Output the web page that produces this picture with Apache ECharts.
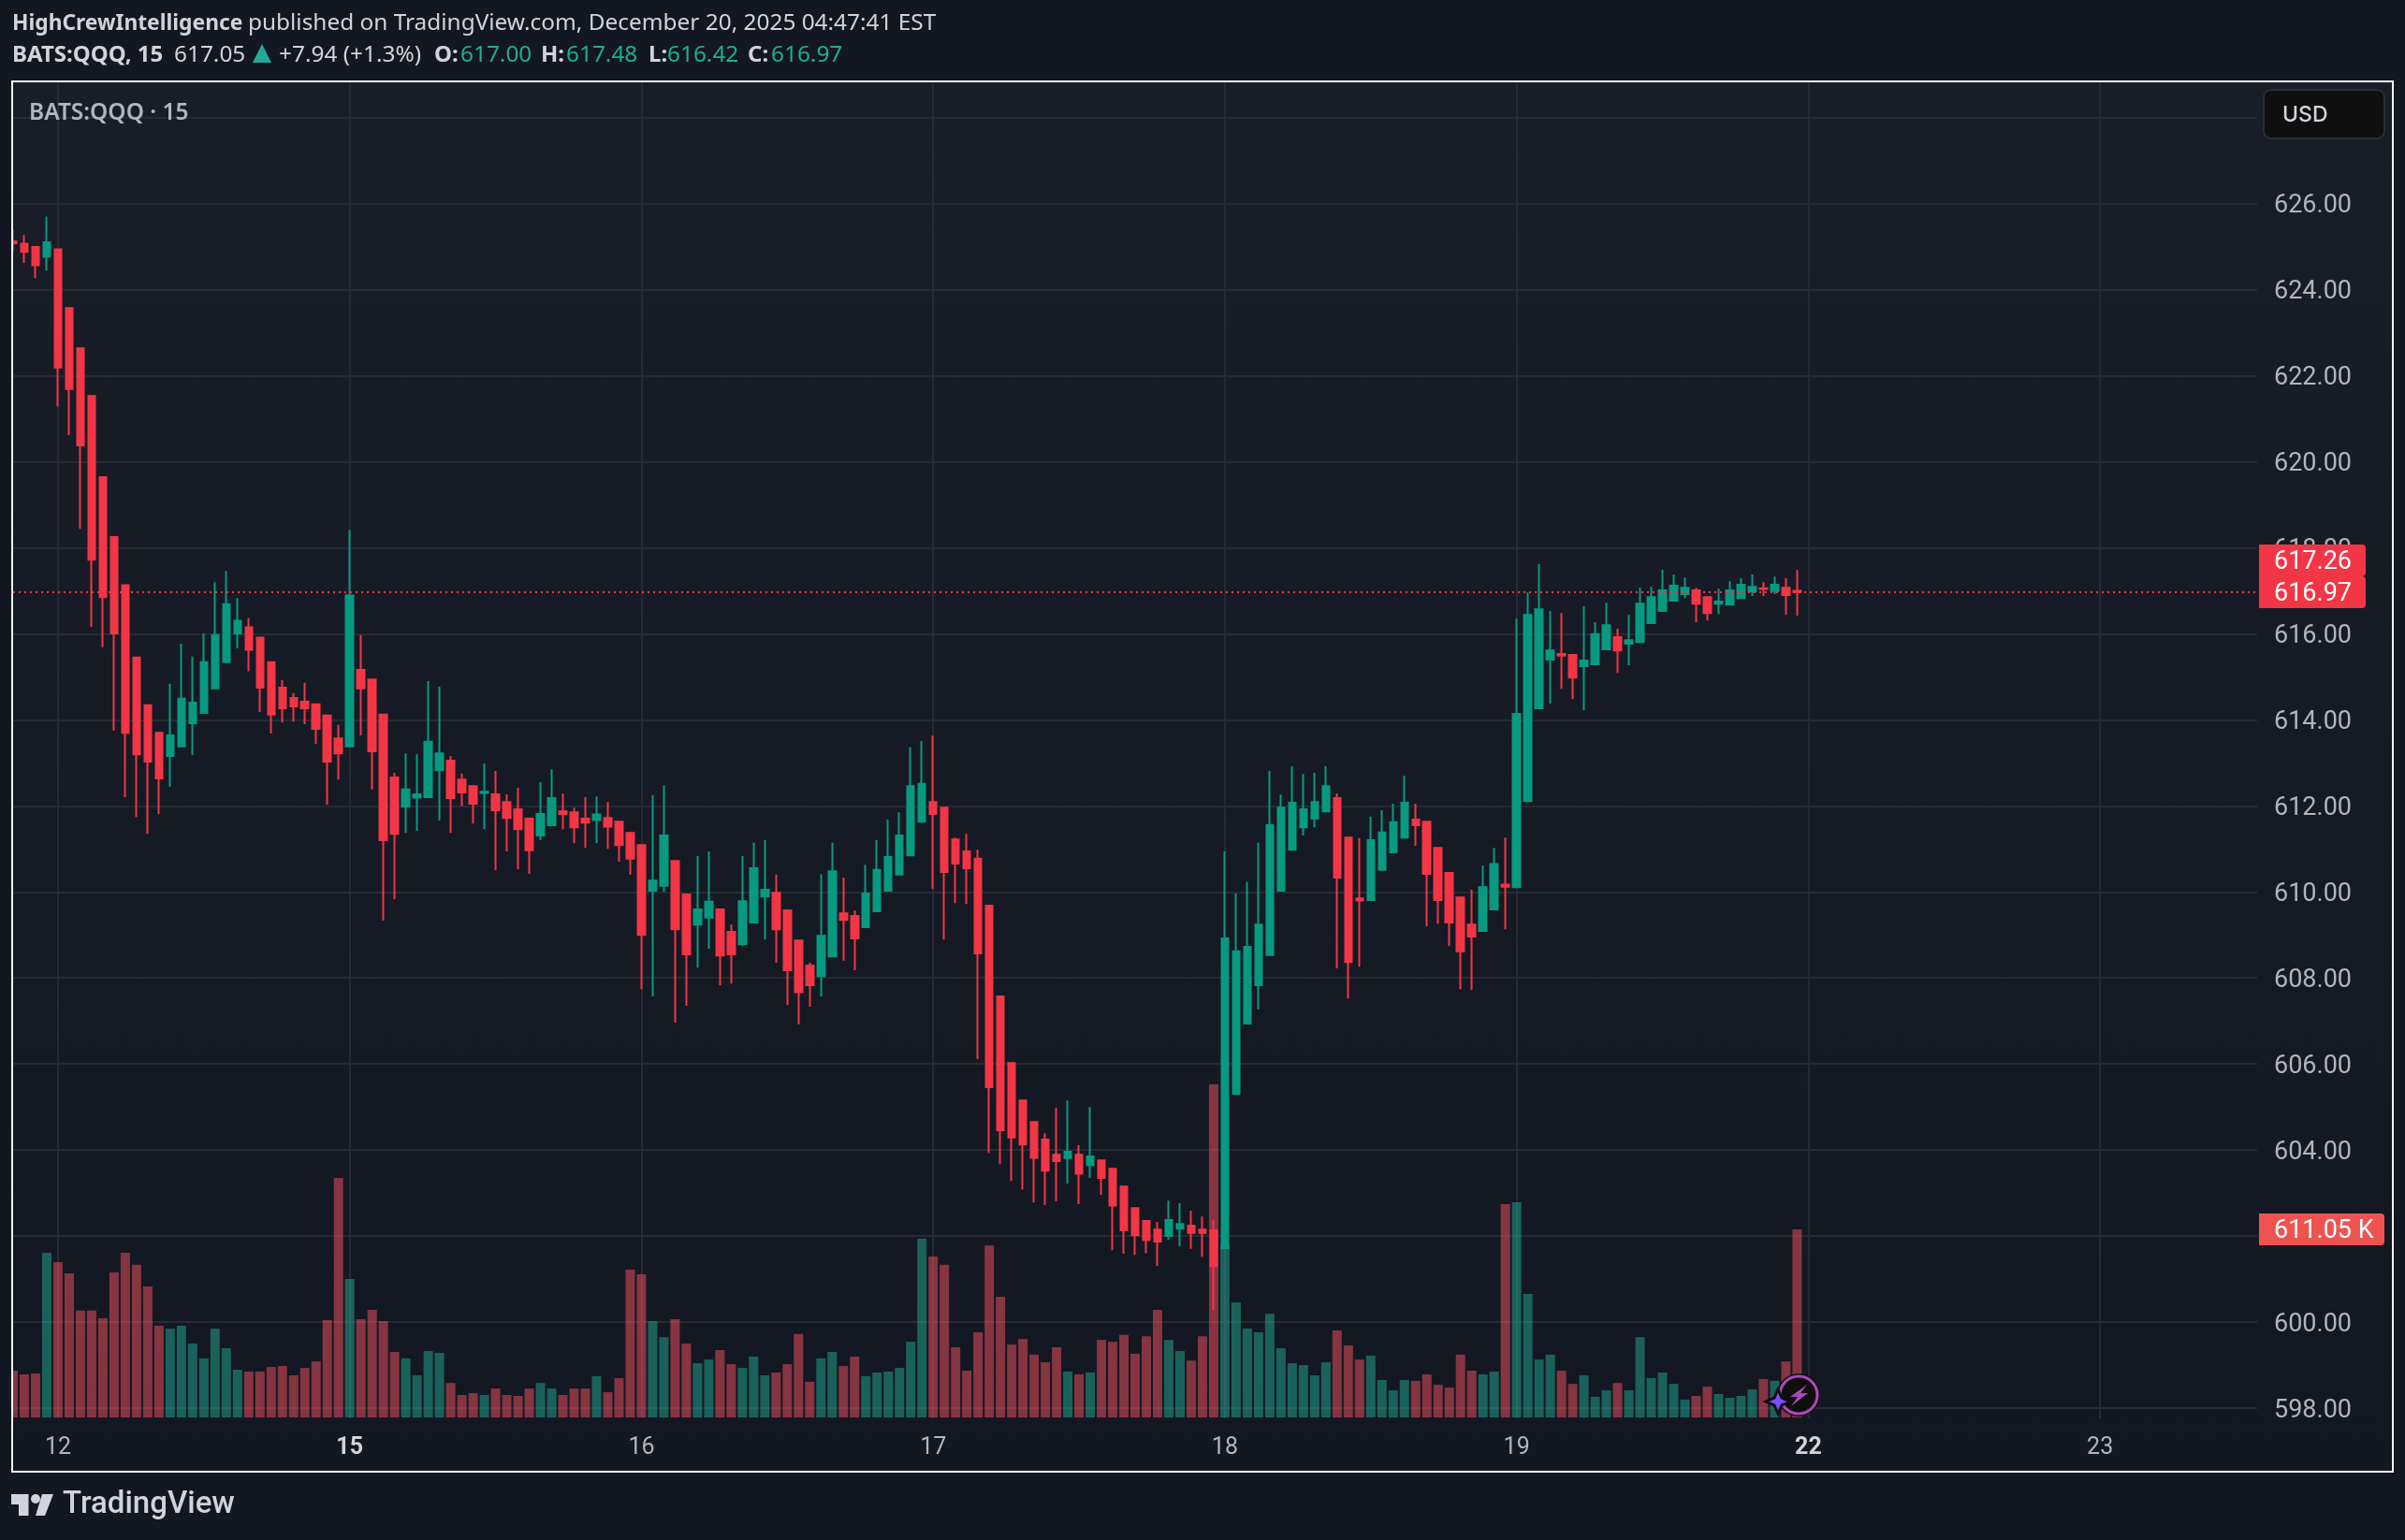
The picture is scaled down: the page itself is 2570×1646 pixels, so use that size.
<!DOCTYPE html>
<html>
<head>
<meta charset="utf-8">
<style>html,body{margin:0;padding:0;background:#131722}#chart{width:2570px;height:1646px}</style>
<script src="https://cdn.jsdelivr.net/npm/echarts@6/dist/echarts.min.js"></script>
</head>
<body>
<div id="chart"></div>
<script>
// session day labels, one every 26 bars, the first session starts 4 bars in
const dayLabels = ['12', '15', '16', '17', '18', '19', '22', '23'];
const boldDays = ['15', '22'];
const priceTicks = [598, 600, 602, 604, 606, 608, 610, 612, 614, 616, 618, 620, 622, 624, 626, 628];

const opens = [
  625.12,625.07,624.99,624.77,624.94,623.57,622.64,621.53,619.64,618.25,
  617.13,615.45,614.34,613.70,613.16,613.38,613.92,614.16,614.73,615.34,
  616.01,616.15,615.91,615.34,614.75,614.51,614.42,614.36,614.10,613.57,
  613.38,615.16,614.94,614.12,612.66,611.98,612.19,612.20,612.83,613.05,
  612.61,612.46,612.30,612.27,612.09,611.92,611.70,611.31,611.55,611.87,
  611.85,611.70,611.67,611.72,611.63,611.37,611.09,610.03,610.14,610.72,
  609.94,609.24,609.40,609.59,609.07,608.78,609.29,609.89,609.98,609.57,
  608.87,608.29,608.04,608.50,609.50,609.44,609.18,609.55,610.03,610.40,
  610.85,611.63,612.09,611.96,611.22,610.94,610.77,609.68,607.57,606.02,
  605.15,604.65,604.24,603.89,603.81,603.89,603.65,603.76,603.56,603.15,
  602.65,602.35,602.15,602.00,602.17,602.24,602.15,602.13,601.72,605.30,
  606.94,607.83,608.53,610.03,610.98,611.50,611.70,611.87,612.18,611.26,
  609.85,609.81,610.51,610.92,611.26,611.68,611.63,611.02,610.44,609.87,
  609.24,609.09,609.59,610.17,610.11,612.11,614.27,615.40,615.53,615.51,
  615.25,615.29,615.64,615.92,615.77,615.81,616.25,616.53,616.77,616.92,
  617.01,616.85,616.70,616.68,616.83,616.99,617.06,617.00,617.07,617.00
];
const closes = [
  625.08,624.88,624.57,625.10,622.19,621.69,620.38,617.72,616.85,616.01,
  613.70,613.20,613.03,612.64,613.64,614.49,614.40,615.34,615.97,616.69,
  616.30,615.63,614.75,614.12,614.27,614.31,614.27,613.79,613.03,613.22,
  616.89,614.73,613.27,611.20,611.35,612.38,612.27,613.49,613.22,612.18,
  612.31,612.05,612.33,611.90,611.72,611.46,610.97,611.81,612.18,611.81,
  611.50,611.61,611.80,611.52,611.09,610.77,609.00,610.26,611.31,609.13,
  608.55,609.59,609.77,608.52,608.55,609.78,610.55,610.05,609.13,608.18,
  607.67,607.83,608.98,610.48,609.35,608.92,609.96,610.51,610.81,611.31,
  612.46,612.51,611.81,610.46,610.66,610.55,608.57,605.46,604.46,604.29,
  604.13,603.82,603.52,603.74,603.96,603.45,603.85,603.35,602.71,602.13,
  602.02,601.91,601.87,602.37,602.28,602.07,602.07,601.30,608.92,608.62,
  608.72,609.24,611.55,611.96,612.07,611.92,612.09,612.46,610.33,608.37,
  609.80,611.20,611.38,611.62,612.07,611.55,610.42,609.81,609.29,608.62,
  608.96,610.11,610.65,610.12,614.14,616.44,616.57,615.61,615.49,614.98,
  615.38,615.99,616.20,615.61,615.85,616.70,616.85,617.01,617.12,617.07,
  616.70,616.48,616.75,617.01,617.14,617.09,617.04,617.14,616.90,616.97
];
const highs = [
  625.40,625.27,624.99,625.70,624.94,623.57,622.64,621.53,619.64,618.25,
  617.13,615.45,614.34,613.70,614.84,615.77,615.47,616.01,617.20,617.46,
  616.83,616.36,615.91,615.34,614.92,614.62,614.86,614.36,614.10,613.88,
  618.42,615.97,614.94,614.12,612.77,613.22,613.20,614.90,614.77,613.16,
  612.75,612.46,612.98,612.81,612.27,612.42,611.70,612.55,612.85,612.29,
  611.96,612.20,612.22,612.09,611.63,611.40,611.09,612.25,612.48,610.72,
  609.94,610.83,610.94,609.59,609.24,610.83,611.14,611.20,610.40,609.57,
  608.87,608.35,610.41,611.14,610.33,609.57,610.63,611.20,611.68,611.85,
  613.36,613.51,613.63,611.96,611.26,611.35,610.98,609.68,607.57,606.02,
  605.15,604.65,604.39,604.98,605.15,604.11,605.00,603.78,603.56,603.15,
  602.65,602.37,602.33,602.82,602.76,602.59,602.45,602.37,610.94,609.96,
  610.23,611.14,612.81,612.26,612.92,612.74,612.77,612.92,612.29,611.26,
  611.25,611.75,611.90,612.05,612.70,612.05,611.63,611.02,610.44,609.87,
  610.05,610.61,611.02,611.26,616.35,616.96,617.62,616.53,616.48,615.51,
  616.64,616.27,616.72,616.12,616.44,617.07,617.09,617.49,617.38,617.31,
  617.07,616.85,617.05,617.22,617.29,617.38,617.20,617.33,617.29,617.48
];
const lows = [
  624.90,624.62,624.27,624.44,621.29,620.62,618.44,616.16,615.69,613.75,
  612.20,611.74,611.35,611.81,612.44,613.38,613.18,614.16,614.73,615.34,
  615.66,615.13,614.18,613.68,613.94,613.96,613.90,613.44,612.03,612.61,
  613.38,613.64,612.38,609.33,609.83,611.37,611.42,612.20,611.66,611.37,
  611.99,611.59,611.46,610.50,610.94,610.53,610.42,611.20,611.55,611.46,
  611.13,611.02,611.13,611.00,610.70,610.40,607.74,607.57,610.00,606.96,
  607.35,608.24,608.68,607.83,607.87,608.74,609.29,608.89,608.35,607.37,
  606.92,607.33,607.57,608.50,608.40,608.18,609.18,609.55,610.03,610.40,
  610.85,611.63,610.07,608.89,609.74,609.72,606.11,603.93,603.67,603.28,
  603.08,602.78,602.72,602.81,603.22,602.74,603.35,602.96,601.67,601.59,
  601.56,601.60,601.30,601.91,601.76,601.70,601.52,600.28,601.72,605.30,
  606.94,607.27,608.53,610.03,610.98,611.31,611.50,611.87,608.22,607.52,
  608.26,609.81,610.51,610.92,611.26,611.07,609.20,609.26,608.74,607.74,
  607.72,609.09,609.59,609.13,610.11,612.11,614.27,614.38,614.72,614.48,
  614.22,615.29,615.64,615.09,615.27,615.81,616.25,616.53,616.77,616.83,
  616.27,616.31,616.46,616.68,616.83,616.88,616.88,616.92,616.44,616.42
];
// volume in thousands
const volumes = [
  152,140,143,535,505,468,347,347,322,471,
  535,496,426,298,289,298,240,192,289,225,
  155,149,149,164,167,137,161,182,316,778,
  450,319,350,313,213,192,137,216,210,112,
  73,79,73,94,73,70,94,112,94,73,
  94,94,134,82,128,480,465,313,261,319,
  240,176,188,219,173,161,198,137,146,173,
  271,116,192,213,167,198,134,146,149,161,
  246,581,523,496,228,152,277,559,392,237,
  255,204,179,228,149,140,146,252,246,268,
  207,264,350,252,216,185,264,1082,560,374,
  289,277,337,225,176,170,137,179,283,234,
  188,201,122,88,122,119,140,106,97,204,
  152,140,149,693,699,401,188,204,152,109,
  137,67,88,112,88,261,128,146,109,58,
  70,100,76,64,70,91,125,119,182,611.05
];

const lastClose = closes[closes.length - 1];

const categories = [];
for (let i = 0; i <= 200; i++) {
  categories.push((i - 4) % 26 === 0 ? dayLabels[(i - 4) / 26] : '');
}

const candleData = opens.map((o, i) => [o, closes[i], lows[i], highs[i]]);
const volumeData = volumes.map((v, i) => ({
  value: v,
  itemStyle: { color: closes[i] >= opens[i] ? 'rgba(34,171,148,0.5)' : 'rgba(247,82,95,0.5)' }
}));

const UP = '#089981';
const DOWN = '#f23645';
const GRID = '#262a35';
const TEAL_TEXT = '#22ab94';
const LIGHT = '#d1d4dc';
const HEAD_FONT = '"Noto Sans"';
const SCALE_FONT = 'Roboto';

const chart = echarts.init(document.getElementById('chart'));

function headText(x, y, text, weight, size, fill) {
  return { type: 'text', z: 60, style: { x: x, y: y, text: text, fill: fill || LIGHT, font: weight + ' ' + size + 'px ' + HEAD_FONT, textVerticalAlign: 'middle' } };
}

function priceTag(top, height, width, bg, label) {
  return [
    { type: 'rect', z: 60, shape: { x: 2414, y: top, width: width, height: height, r: [0, 4, 4, 0] }, style: { fill: bg } },
    { type: 'text', z: 61, style: { x: 2430, y: top + height / 2 + 2, text: label, fill: '#ffffff', font: '27px ' + SCALE_FONT, textVerticalAlign: 'middle' } }
  ];
}

const option = {
  backgroundColor: '#131722',
  animation: false,
  grid: { left: 14, right: 158, top: 88, bottom: 130 },
  xAxis: {
    type: 'category',
    data: categories,
    boundaryGap: false,
    axisLine: { show: false },
    axisTick: { show: false },
    splitLine: {
      show: true,
      interval: (i, v) => v !== '',
      lineStyle: { color: GRID, width: 2 }
    },
    axisLabel: {
      interval: (i, v) => v !== '',
      margin: 19,
      color: '#b2b5be',
      fontFamily: 'Roboto',
      fontSize: 25,
      formatter: v => boldDays.includes(v) ? '{d|' + v + '}' : v,
      rich: { d: { color: LIGHT, fontFamily: 'Roboto', fontSize: 25, fontWeight: 700 } }
    }
  },
  yAxis: [{
    type: 'value',
    position: 'right',
    min: 597.76,
    max: 628.82,
    axisLine: { show: false },
    axisTick: { show: false, customValues: priceTicks },
    splitLine: { show: true, lineStyle: { color: GRID, width: 2 } },
    axisLabel: {
      customValues: priceTicks,
      margin: 18,
      color: '#b2b5be',
      fontFamily: SCALE_FONT,
      fontSize: 27,
      formatter: v => '{p|' + v.toFixed(2) + '}',
      rich: { p: { color: '#b2b5be', fontFamily: SCALE_FONT, fontSize: 27, padding: [6, 0, 0, 0] } }
    }
  }, {
    type: 'value',
    min: -3,
    max: 4338,
    show: false,
    splitLine: { show: false }
  }],
  series: [{
    name: 'Volume',
    type: 'bar',
    yAxisIndex: 1,
    z: 1,
    barWidth: 10,
    data: volumeData
  }, {
    name: 'BATS:QQQ',
    type: 'candlestick',
    z: 3,
    barWidth: 8,
    data: candleData,
    itemStyle: { color: UP, color0: DOWN, borderColor: UP, borderColor0: DOWN, borderWidth: 2 },
    markLine: {
      silent: true,
      symbol: 'none',
      label: { show: false },
      lineStyle: { color: DOWN, width: 2, type: [2, 4] },
      data: [{ yAxis: lastClose }]
    }
  }],
  graphic: {
    elements: [
      // pane background
      { type: 'rect', z: -10, shape: { x: 13, y: 87, width: 2544, height: 1486 },
        style: { fill: new echarts.graphic.LinearGradient(0, 0, 0, 1, [{ offset: 0, color: '#191d28' }, { offset: 1, color: '#131722' }]) } },
      // the first bar is cut by the frame
      { type: 'rect', z: 45, shape: { x: 0, y: 88, width: 13, height: 1484 }, style: { fill: '#131722' } },
      { type: 'rect', z: 50, shape: { x: 13, y: 87, width: 2544, height: 1486 }, style: { fill: 'none', stroke: '#f5f6fa', lineWidth: 2 } },
      // header
      headText(13, 25.5, 'HighCrewIntelligence', 700, 22.8),
      headText(265, 25.5, 'published on TradingView.com, December 20, 2025 04:47:41 EST', 400, 24.4),
      headText(13, 59.5, 'BATS:QQQ, 15', 700, 24),
      headText(186, 59.5, '617.05', 400, 24.4),
      { type: 'polygon', z: 60, shape: { points: [[280, 47], [290, 67], [270, 67]] }, style: { fill: TEAL_TEXT } },
      headText(298, 59.5, '+7.94 (+1.3%)', 400, 24.4),
      headText(464, 59.5, 'O:', 700, 24),
      headText(492, 59.5, '617.00', 400, 24.4, TEAL_TEXT),
      headText(578, 59.5, 'H:', 700, 24),
      headText(605, 59.5, '617.48', 400, 24.4, TEAL_TEXT),
      headText(693, 59.5, 'L:', 700, 24),
      headText(713, 59.5, '616.42', 400, 24.4, TEAL_TEXT),
      headText(799, 59.5, 'C:', 700, 24),
      headText(824, 59.5, '616.97', 400, 24.4, TEAL_TEXT),
      headText(31, 121, 'BATS:QQQ · 15', 600, 24.5, '#b2b5be'),
      // currency button
      { type: 'rect', z: 60, shape: { x: 2419, y: 96, width: 129, height: 52, r: 8 }, style: { fill: '#0f0f0f', stroke: '#2a2e39', lineWidth: 2 } },
      { type: 'text', z: 61, style: { x: 2439, y: 123.5, text: 'USD', fill: LIGHT, font: '500 23px Inter', textVerticalAlign: 'middle' } },
      // last value tags
      ...priceTag(582, 34, 114, DOWN, '617.26'),
      ...priceTag(616, 34, 114, DOWN, '616.97'),
      ...priceTag(1297, 34, 134, '#ef5350', '611.05 K'),
      // TradingView logo
      { type: 'polygon', z: 60, shape: { points: [[12, 1597], [30.5, 1597], [30.5, 1620], [20, 1620], [20, 1608], [12, 1608]] }, style: { fill: LIGHT } },
      { type: 'circle', z: 60, shape: { cx: 38, cy: 1602, r: 5 }, style: { fill: LIGHT } },
      { type: 'polygon', z: 60, shape: { points: [[45, 1597], [57, 1597], [48, 1620], [38, 1620]] }, style: { fill: LIGHT } },
      { type: 'text', z: 60, style: { x: 67, y: 1609, text: 'TradingView', fill: LIGHT, font: '500 33px Roboto', textVerticalAlign: 'middle' } },
      // sparkle and lightning badge
      { type: 'circle', z: 40, shape: { cx: 1922, cy: 1491, r: 23 }, style: { fill: '#0f0f0f' } },
      { type: 'circle', z: 41, shape: { cx: 1922, cy: 1491, r: 20 }, style: { fill: '#0f0f0f', stroke: '#ab47bc', lineWidth: 3 } },
      { type: 'polygon', z: 42, shape: { points: [[1931, 1480], [1913, 1493], [1921, 1493], [1914, 1503], [1932, 1489], [1924, 1489]] }, style: { fill: '#ab47bc' } },
      { type: 'polygon', z: 43, shape: { points: [[1900, 1485], [1904, 1494], [1913, 1498], [1904, 1502], [1900, 1511], [1896, 1502], [1887, 1498], [1896, 1494]] }, style: { fill: '#7c4dff', stroke: '#0f0f0f', lineWidth: 3 } }
    ]
  }
};

chart.setOption(option);
</script>
</body>
</html>
